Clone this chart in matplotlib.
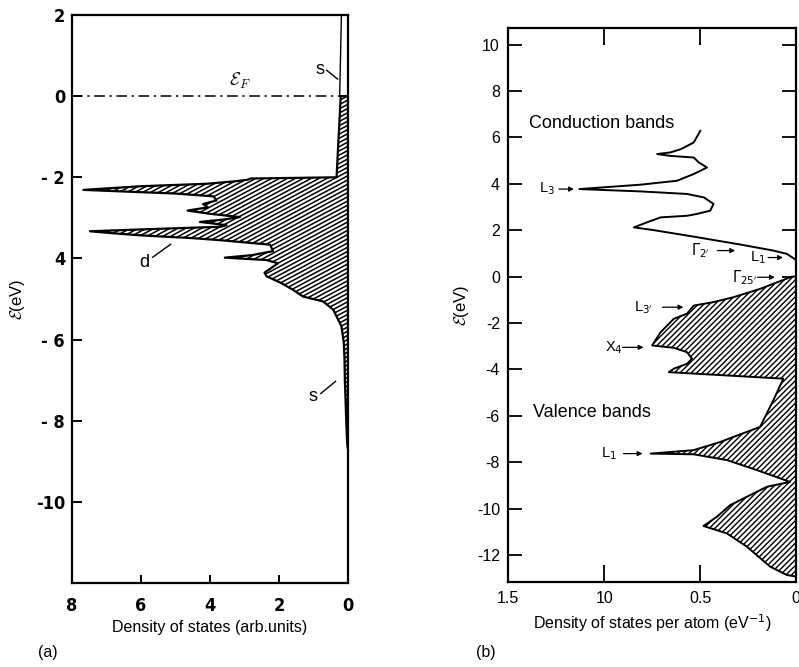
import numpy as np
import matplotlib
matplotlib.use("Agg")
import matplotlib.pyplot as plt
from matplotlib.patches import Polygon
from matplotlib.collections import LineCollection
from matplotlib.transforms import IdentityTransform

plt.rcParams['font.family'] = ['Liberation Sans', 'DejaVu Sans']
plt.rcParams['axes.unicode_minus'] = False

# ---- (a) density of states, arbitrary units ----
a_energy = [0.0, -0.5, -1.0, -1.5, -2.0, -2.03, -2.06, -2.10, -2.16, -2.22, -2.31,
            -2.35, -2.40, -2.47, -2.57, -2.66, -2.74, -2.82, -2.90, -2.98, -3.04,
            -3.10, -3.18, -3.22, -3.27, -3.33, -3.38, -3.43, -3.50, -3.55, -3.66,
            -3.82, -3.92, -3.98, -4.04, -4.12, -4.35, -4.44, -4.60, -4.77, -4.94,
            -5.06, -5.26, -5.67, -6.08, -6.5, -7.0, -7.5, -8.0, -8.45, -8.7]
a_dos = [0.21, 0.24, 0.27, 0.30, 0.33, 2.83, 2.90, 3.3, 4.1, 6.0, 7.67,
         6.5, 5.0, 3.9, 3.81, 4.2, 4.06, 4.65, 4.0, 3.13, 3.6,
         4.29, 3.52, 3.7, 5.5, 7.48, 6.8, 6.03, 4.5, 3.7, 2.26,
         2.17, 2.8, 3.57, 2.36, 2.03, 2.42, 2.36, 1.95, 1.6, 1.3,
         0.72, 0.43, 0.19, 0.12, 0.10, 0.09, 0.07, 0.05, 0.03, 0.0]
a_s_above_energy = [0.0, 2.0]
a_s_above_dos = [0.24, 0.19]
a_yticks = [2, 0, -2, -4, -6, -8, -10]
a_yticklabels = ['2', '0', '- 2', '4', '- 6', '- 8', '-10']
a_xticks = [8, 6, 4, 2, 0]
a_xticklabels = ['8', '6', '4', '2', '0']

# ---- (b) density of states per atom ----
cond_energy = [6.28, 5.78, 5.49, 5.35, 5.28, 5.20, 5.13, 4.92, 4.70, 4.42, 4.13,
               3.96, 3.77, 3.67, 3.56, 3.41, 3.13, 2.84, 2.70, 2.62, 2.55, 2.34,
               2.12, 2.00, 1.72, 1.38, 1.12, 0.98, 0.72]
cond_dos = [0.499, 0.533, 0.60, 0.655, 0.724, 0.655, 0.533, 0.507, 0.464, 0.533, 0.62,
            0.81, 1.13, 0.81, 0.568, 0.48, 0.43, 0.447, 0.516, 0.568, 0.706, 0.776,
            0.845, 0.741, 0.533, 0.29, 0.118, 0.048, 0.0]
val_energy = [0.0, -0.53, -0.89, -1.10, -1.25, -1.60, -1.82, -2.40, -2.97, -3.07,
              -3.26, -3.54, -3.76, -3.97, -4.12, -4.40, -5.33, -6.48, -6.91, -7.13,
              -7.48, -7.63, -7.66, -7.91, -8.34, -8.85, -9.06, -9.49, -9.85, -10.35,
              -10.75, -11.07, -11.64, -12.5, -12.86, -12.93]
val_dos = [0.02, 0.187, 0.326, 0.43, 0.533, 0.568, 0.637, 0.706, 0.75, 0.637,
           0.568, 0.542, 0.568, 0.637, 0.663, 0.066, 0.118, 0.187, 0.326, 0.395,
           0.533, 0.758, 0.533, 0.36, 0.204, 0.031, 0.152, 0.256, 0.343, 0.412,
           0.482, 0.36, 0.256, 0.135, 0.048, 0.0]
b_yticks = [10, 8, 6, 4, 2, 0, -2, -4, -6, -8, -10, -12]
b_xticks = [1.5, 1.0, 0.5, 0.0]
b_xticklabels = ['1.5', '10', '0.5', '0']

# symmetry point labels: (text, text x, text y, arrow start x, arrow end x)
b_points = [
    (r'L$_3$', 1.30, 3.77, 1.236, 1.158),
    (r"$\Gamma_{2'}$", 0.50, 1.12, 0.41, 0.317),
    (r'L$_1$', 0.20, 0.82, 0.145, 0.068),
    (r"$\Gamma_{25'}$", 0.265, -0.03, 0.20, 0.11),
    (r"L$_{3'}$", 0.795, -1.32, 0.696, 0.587),
    (r'X$_4$', 0.95, -3.05, 0.904, 0.795),
    (r'L$_1$', 0.977, -7.63, 0.899, 0.80),
]


def hatched_band(ax, dos, energy, angle_deg, period_px, stripe_lw, edge_lw):
    """Outline the band between the curve and zero, then fill it with
    slanted stripes drawn in pixel space and clipped to the outline."""
    xs = [0.0] + list(dos) + [0.0]
    ys = [energy[0]] + list(energy) + [energy[-1]]
    pts = np.column_stack([xs, ys])
    region = Polygon(pts, closed=True, facecolor='white', edgecolor='none',
                     zorder=2)
    ax.add_patch(region)
    bb = ax.bbox
    slope = np.tan(np.radians(angle_deg))
    c_lo = bb.y0 - slope * bb.x1 - period_px
    c_hi = bb.y1 - slope * bb.x0 + period_px
    segs = [[(bb.x0, slope * bb.x0 + c), (bb.x1, slope * bb.x1 + c)]
            for c in np.arange(c_lo, c_hi, period_px)]
    stripes = LineCollection(segs, transform=IdentityTransform(), colors='black',
                             linewidths=stripe_lw, zorder=2.5)
    stripes.set_clip_path(region)
    ax.add_collection(stripes, autolim=False)
    edge = Polygon(pts, closed=True, facecolor='none', edgecolor='black',
                   linewidth=edge_lw, joinstyle='round', zorder=3)
    ax.add_patch(edge)


fig = plt.figure(figsize=(7.99, 6.67), dpi=100)

# ---------- panel (a) ----------
ax1 = fig.add_axes([0.0901, 0.1259, 0.3454, 0.8516])
ax1.set_xlim(8, 0)
ax1.set_ylim(-12, 2)
hatched_band(ax1, a_dos, a_energy, 28, 4.2, 1.1, 1.6)
ax1.plot(a_s_above_dos, a_s_above_energy, color='black', lw=1.0, zorder=3)
ax1.axhline(0, color='black', lw=1.1, linestyle=(0, (7, 3, 1.5, 3)), zorder=3)
for s in ax1.spines.values():
    s.set_linewidth(1.6)
    s.set_zorder(5)
ax1.set_yticks(a_yticks)
ax1.set_yticklabels(a_yticklabels)
ax1.set_xticks(a_xticks)
ax1.set_xticklabels(a_xticklabels)
ax1.tick_params(axis='y', direction='in', length=7, width=1.4, pad=5)
ax1.tick_params(axis='x', direction='in', length=6, width=1.4, pad=10)
for lab in ax1.get_xticklabels() + ax1.get_yticklabels():
    lab.set_fontfamily('DejaVu Sans')
    lab.set_fontstretch('condensed')
    lab.set_fontweight('bold')
    lab.set_fontsize(13)
ax1.set_xlabel('Density of states (arb.units)', fontsize=11.5, labelpad=4)
ax1.set_ylabel(r'$\mathcal{E}$(eV)', fontsize=12, labelpad=6)
ax1.yaxis.label.set_math_fontfamily('cm')
ax1.text(3.14, 0.37, r'$\mathcal{E}_F$', fontsize=13, ha='center', va='center',
         math_fontfamily='cm')
ax1.text(0.82, 0.66, 's', fontsize=13, ha='center', va='center')
ax1.plot([0.62, 0.30], [0.64, 0.42], color='black', lw=1.0)
ax1.text(5.89, -4.09, 'd', fontsize=13, ha='center', va='center')
ax1.plot([5.66, 5.14], [-3.97, -3.65], color='black', lw=1.0)
ax1.text(1.02, -7.40, 's', fontsize=13, ha='center', va='center')
ax1.plot([0.79, 0.36], [-7.33, -7.03], color='black', lw=1.0)

# ---------- panel (b) ----------
ax2 = fig.add_axes([0.6362, 0.1279, 0.3600, 0.8297])
ax2.set_xlim(1.5, 0)
ax2.set_ylim(-13.15, 10.7)
ax2.plot(cond_dos, cond_energy, color='black', lw=1.4)
hatched_band(ax2, val_dos, val_energy, 45, 5.6, 1.0, 1.4)
for s in ax2.spines.values():
    s.set_linewidth(1.6)
    s.set_zorder(5)
ax2.set_yticks(b_yticks)
ax2.set_xticks(b_xticks)
ax2.set_xticklabels(b_xticklabels)
ax2.tick_params(axis='y', direction='in', length=10, width=1.3, pad=6,
                right=True, labelsize=11.5)
ax2.tick_params(axis='x', direction='in', length=12, width=1.3, pad=7,
                top=True, labelsize=11.5)
ax2.set_xlabel(r'Density of states per atom (eV$^{-1}$)', fontsize=11.5, labelpad=4)
ax2.set_ylabel(r'$\mathcal{E}$(eV)', fontsize=12, labelpad=4)
ax2.yaxis.label.set_math_fontfamily('cm')
ax2.text(1.39, 6.58, 'Conduction bands', fontsize=13, ha='left', va='center')
ax2.text(1.37, -5.85, 'Valence bands', fontsize=13, ha='left', va='center')
for label, tx, ty, x0, x1 in b_points:
    ax2.text(tx, ty, label, fontsize=10.5, ha='center', va='center')
    ax2.annotate('', xy=(x1, ty), xytext=(x0, ty),
                 arrowprops=dict(arrowstyle='-|>', color='black', lw=0.9,
                                 mutation_scale=7, shrinkA=0, shrinkB=0))

fig.text(0.060, 0.015, '(a)', fontsize=11.5, ha='center')
fig.text(0.608, 0.015, '(b)', fontsize=11.5, ha='center')

fig.savefig('out.png', dpi=100)
